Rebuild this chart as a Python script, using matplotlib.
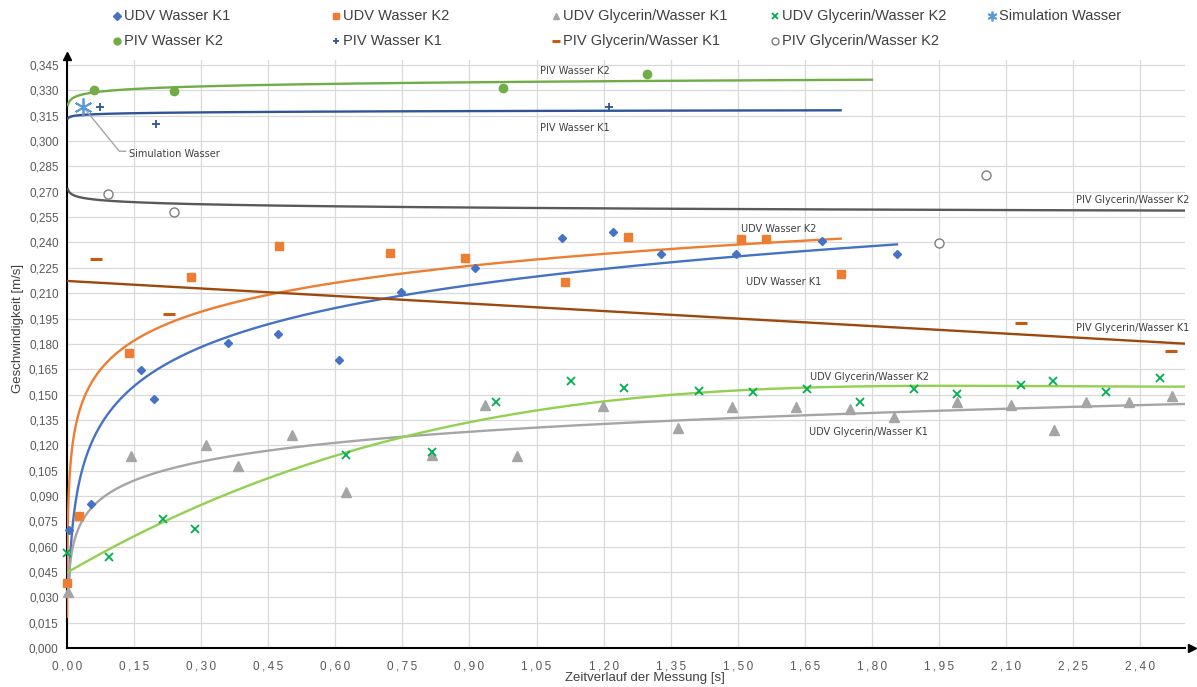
import numpy as np
import matplotlib
matplotlib.use("Agg")
import matplotlib.pyplot as plt
from matplotlib.lines import Line2D
from matplotlib.ticker import FuncFormatter
from matplotlib import font_manager
from matplotlib.font_manager import FontProperties

udv_w_k1_t = [0.005, 0.054, 0.166, 0.195, 0.360, 0.471, 0.608, 0.747, 0.913, 1.107, 1.220, 1.329, 1.497, 1.689, 1.856]
udv_w_k1_v = [0.070, 0.0853, 0.1647, 0.1472, 0.1803, 0.1858, 0.1707, 0.2106, 0.225, 0.2424, 0.2461, 0.2331, 0.2331, 0.2406, 0.2331]

udv_w_k2_t = [0.0002, 0.027, 0.139, 0.278, 0.474, 0.723, 0.891, 1.114, 1.255, 1.507, 1.563, 1.730]
udv_w_k2_v = [0.0384, 0.0784, 0.1746, 0.2193, 0.238, 0.2339, 0.2309, 0.2164, 0.2432, 0.2422, 0.2422, 0.2215]

udv_gly_k1_t = [0.003, 0.144, 0.311, 0.383, 0.504, 0.623, 0.816, 0.934, 1.007, 1.199, 1.366, 1.486, 1.630,
                1.752, 1.849, 1.991, 2.111, 2.206, 2.279, 2.375, 2.470]
udv_gly_k1_v = [0.0333, 0.1135, 0.1202, 0.108, 0.1263, 0.0923, 0.1141, 0.1437, 0.1137, 0.1433, 0.1305, 0.1428,
                0.1428, 0.1413, 0.1365, 0.1453, 0.1437, 0.1291, 0.1453, 0.1453, 0.1490]

udv_gly_k2_t = [0.001, 0.095, 0.215, 0.286, 0.623, 0.816, 0.960, 1.127, 1.245, 1.414, 1.533, 1.655, 1.774,
                1.894, 1.990, 2.133, 2.205, 2.324, 2.443]
udv_gly_k2_v = [0.0562, 0.0537, 0.0762, 0.0703, 0.1145, 0.1161, 0.1453, 0.1579, 0.1539, 0.1522, 0.1518, 0.1535,
                0.1453, 0.1532, 0.1506, 0.1556, 0.1580, 0.1514, 0.1599]

sim_t = [0.036]
sim_v = [0.3203]

piv_w_k2_t = [0.060, 0.239, 0.975, 1.296]
piv_w_k2_v = [0.330, 0.3296, 0.3316, 0.3399]

piv_w_k1_t = [0.0746, 0.198, 1.211]
piv_w_k1_v = [0.3203, 0.3101, 0.3203]

piv_gly_k1_t = [0.064, 0.227, 2.133, 2.468]
piv_gly_k1_v = [0.2305, 0.1976, 0.1923, 0.1759]

piv_gly_k2_t = [0.0917, 0.239, 1.950, 2.055]
piv_gly_k2_v = [0.2684, 0.2582, 0.2398, 0.2799]

piv_trend_start = {
    "PIV Wasser K2": (0.002, 0.3215),
    "PIV Wasser K1": (0.002, 0.3135),
    "PIV Glycerin/Wasser K2": (0.002, 0.2715),
}

plt.rcParams["font.family"] = ["Liberation Sans", "DejaVu Sans"]

# schmale Schrift für die Beschriftungen im Diagramm, falls vorhanden
cond = None
for f in font_manager.fontManager.ttflist:
    if f.stretch in ("condensed", "semi-condensed") and f.style == "normal" and f.weight in (400, "normal", "regular"):
        if cond is None or "Liberation" in f.name:
            cond = f.fname

W, H = 1197, 687
fig = plt.figure(figsize=(W / 100, H / 100), dpi=100)
ax = fig.add_axes([67 / W, 39 / H, (1185 - 67) / W, (648 - 60) / H])
ax.set_xlim(0, 2.5)
ax.set_ylim(0, 0.348)

# Serien: name, t, v, marker, farbe, markersize, gefüllt, trend(typ, t_ende, farbe), legenden-markersize
series = [
    ("UDV Wasser K1", udv_w_k1_t, udv_w_k1_v, "D", "#4472C4", 4.5, True, ("log", 1.856, "#4472C4"), 4),
    ("UDV Wasser K2", udv_w_k2_t, udv_w_k2_v, "s", "#ED7D31", 6, True, ("log", 1.730, "#ED7D31"), 5),
    ("UDV Glycerin/Wasser K1", udv_gly_k1_t, udv_gly_k1_v, "^", "#A5A5A5", 6.5, True, ("log", 2.5, "#A5A5A5"), 5),
    ("UDV Glycerin/Wasser K2", udv_gly_k2_t, udv_gly_k2_v, "x", "#00B050", 6, True, ("poly3", 2.5, "#92D050"), 4.5),
    ("Simulation Wasser", sim_t, sim_v, (6, 2, 0), "#5B9BD5", 13, True, None, 7),
    ("PIV Wasser K2", piv_w_k2_t, piv_w_k2_v, "o", "#70AD47", 6, True, ("log", 1.80, "#70AD47"), 5),
    ("PIV Wasser K1", piv_w_k1_t, piv_w_k1_v, "+", "#2F5597", 6, True, ("log", 1.73, "#2F5597"), 5),
    ("PIV Glycerin/Wasser K1", piv_gly_k1_t, piv_gly_k1_v, "_", "#C55A11", 8, True, ("lin", 2.5, "#9E480E"), 6),
    ("PIV Glycerin/Wasser K2", piv_gly_k2_t, piv_gly_k2_v, "o", "#7F7F7F", 6.5, False, ("log", 2.5, "#595959"), 5),
]

handles = {}
for name, t, v, m, c, ms, filled, trend, lms in series:
    t = np.array(t)
    v = np.array(v)
    if trend is not None:
        kind, t_end, lc = trend
        ft, fv = t, v
        if name in piv_trend_start:
            t0, v0 = piv_trend_start[name]
            ft = np.append(t0, t)
            fv = np.append(v0, v)
        if kind == "log":
            a, b = np.polyfit(np.log(ft), fv, 1)
            tt = np.geomspace(ft.min(), t_end, 500)
            yy = a * np.log(tt) + b
        elif kind == "poly3":
            p = np.polyfit(ft, fv, 3)
            tt = np.linspace(0, t_end, 300)
            yy = np.polyval(p, tt)
        else:
            p = np.polyfit(ft, fv, 1)
            tt = np.linspace(0, t_end, 50)
            yy = np.polyval(p, tt)
        ax.plot(tt, yy, color=lc, lw=1.7, zorder=3)
    mew = 2.2 if m == "_" else (1.3 if m in ("x", "+", (6, 2, 0)) else 1.0)
    h, = ax.plot(t, v, ls="none", marker=m, ms=ms, color=c,
                 mfc=c if filled else "white", mec=c, mew=mew, zorder=4, clip_on=False)
    handles[name] = (h, lms)

# Achsen
ax.set_xticks(np.arange(0, 2.41, 0.15))
ax.set_yticks(np.arange(0, 0.3451, 0.015))
ax.xaxis.set_major_formatter(FuncFormatter(lambda v, p: "\u2009".join(f"{v:.2f}".replace(".", ","))))
ax.yaxis.set_major_formatter(FuncFormatter(lambda v, p: f"{v:.3f}".replace(".", ",")))
ax.tick_params(length=0, labelsize=8.5, labelcolor="#595959")
ax.tick_params(axis="x", pad=9)
ax.tick_params(axis="y", pad=6)
ax.grid(True, color="#D9D9D9", lw=0.9)
ax.set_axisbelow(True)
for s in ("top", "right"):
    ax.spines[s].set_visible(False)
for s in ("left", "bottom"):
    ax.spines[s].set_color("black")
    ax.spines[s].set_linewidth(1.5)
ax.plot([1.006], [0], marker=">", color="black", ms=6, transform=ax.transAxes, clip_on=False)
ax.plot([0], [1.006], marker="^", color="black", ms=6, transform=ax.transAxes, clip_on=False)

fig.text(645 / W, 1 - 678 / H, "Zeitverlauf der Messung [s]", ha="center", va="center",
         fontsize=9.5, color="#404040")
fig.text(18 / W, 1 - 328 / H, "Geschwindigkeit [m/s]", rotation=90, ha="center", va="center",
         fontsize=9.5, color="#404040")

# Beschriftungen der Trendlinien
labels = [
    ("PIV Wasser K2", 1.058, 0.3413),
    ("PIV Wasser K1", 1.058, 0.3079),
    ("Simulation Wasser", 0.139, 0.2926),
    ("PIV Glycerin/Wasser K2", 2.256, 0.2650),
    ("UDV Wasser K2", 1.508, 0.2480),
    ("UDV Wasser K1", 1.518, 0.2168),
    ("PIV Glycerin/Wasser K1", 2.257, 0.1895),
    ("UDV Glycerin/Wasser K2", 1.662, 0.1603),
    ("UDV Glycerin/Wasser K1", 1.659, 0.1280),
]
if cond is not None:
    lab_font = FontProperties(fname=cond, size=10)
else:
    lab_font = FontProperties(family="Liberation Sans", size=10)
# Schriftgröße so wählen, dass die längste Beschriftung etwa 120 px breit ist
probe = fig.text(0, 0, "UDV Glycerin/Wasser K2", fontproperties=lab_font)
wpx = probe.get_window_extent(renderer=fig.canvas.get_renderer()).width
probe.remove()
lab_font.set_size(min(10.0, 10.0 * 119 / wpx))
for txt, x, y in labels:
    ax.text(x, y, txt, ha="left", va="center", fontproperties=lab_font, color="#404040",
            clip_on=False, zorder=5)
ax.plot([0.036, 0.117, 0.131], [0.3203, 0.294, 0.294], color="#A6A6A6", lw=1, zorder=3)

# Legende (zwei Zeilen, fünf Spalten)
legend_pos = [
    ("UDV Wasser K1", 117, 16), ("UDV Wasser K2", 336, 16), ("UDV Glycerin/Wasser K1", 556, 16),
    ("UDV Glycerin/Wasser K2", 775, 16), ("Simulation Wasser", 992, 16),
    ("PIV Wasser K2", 117, 41), ("PIV Wasser K1", 336, 41), ("PIV Glycerin/Wasser K1", 556, 41),
    ("PIV Glycerin/Wasser K2", 775, 41),
]
for name, px, py in legend_pos:
    h, lms = handles[name]
    fig.add_artist(Line2D([px / W], [1 - py / H], transform=fig.transFigure, ls="none",
                          marker=h.get_marker(), ms=lms, color=h.get_color(),
                          mfc=h.get_markerfacecolor(), mec=h.get_markeredgecolor(),
                          mew=h.get_markeredgewidth()))
    fig.text((px + 7) / W, 1 - py / H, name, ha="left", va="center", fontsize=10.5, color="#404040")

fig.savefig("out.png", dpi=100)
